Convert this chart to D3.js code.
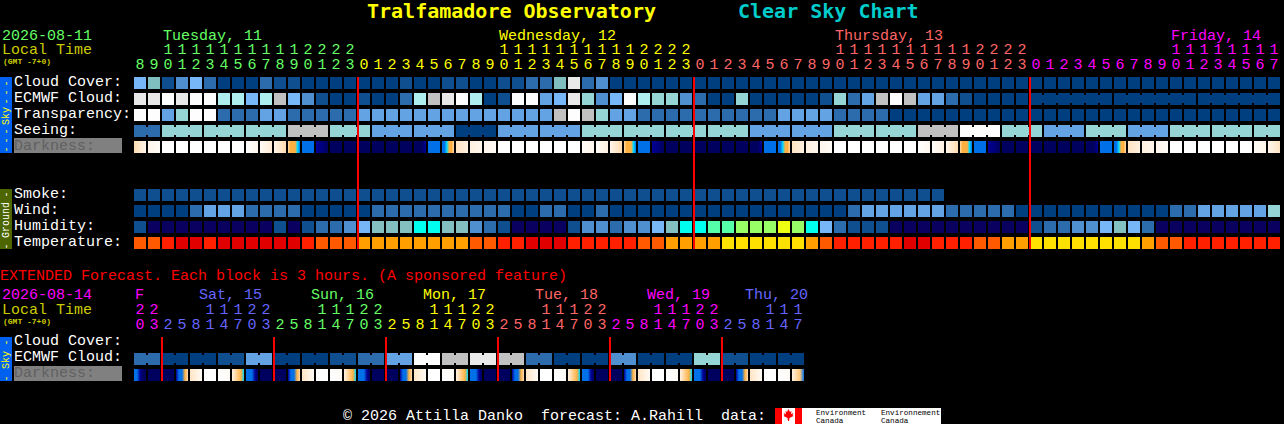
<!DOCTYPE html>
<html>
<head>
<meta charset="utf-8">
<title>Tralfamadore Observatory Clear Sky Chart</title>
<style>
  html, body { margin: 0; padding: 0; background: #000; }
  svg { display: block; }
  text { font-family: "Liberation Mono", monospace; font-size: 15px; }
  .axis path { display: none; }
</style>
</head>
<body>
<svg width="1284" height="424"></svg>
<script src="https://d3js.org/d3.v7.min.js"></script>
<script>
// hour of each block, main forecast
var hours = [8,9,10,11,12,13,14,15,16,17,18,19,20,21,22,23,
  0,1,2,3,4,5,6,7,8,9,10,11,12,13,14,15,16,17,18,19,20,21,22,23,
  0,1,2,3,4,5,6,7,8,9,10,11,12,13,14,15,16,17,18,19,20,21,22,23,
  0,1,2,3,4,5,6,7,8,9,10,11,12,13,14,15,16,17];
var dayNames = ["Tuesday, 11", "Wednesday, 12", "Thursday, 13", "Friday, 14"];
var dayCells = [2, 26, 50, 74];

// sky rows, level 0 (dark) to 11 (white)
var cloud = [5,6,1,3,5,2,0,0,0,2,1,1,0,0,0,0,0,0,0,1,0,
  0,1,1,0,0,1,1,2,2,6,10,2,3,0,0,0,0,0,0,0,0,0,0,0,0,0,0,0,0,0,0,
  0,0,0,0,0,0,0,0,0,0,0,0,0,0,0,0,0,0,0,0,0,0,0,0,0,0,0,0,0,0];
var ecmwf = [10,10,11,10,11,11,8,8,5,8,9,5,3,1,0,0,1,0,0,2,8,
  9,10,11,8,0,1,11,11,4,5,10,7,3,5,11,8,7,7,3,2,0,0,7,0,0,0,0,0,1,7,2,
  4,9,11,9,4,4,2,1,0,0,0,0,
  0,0,0,0,0,0,0,0,0,0,0,0,0,0,0,0,0,0];
var ecmwfBlocks = d3.range(64).map(function () { return 1; }).concat([6,6,6]);
var transparency = [11,11,4,7,11,11,2,2,2,4,4,2,2,2,2,2,4,4,4,4,4,
  4,4,4,4,4,4,4,4,4,9,11,9,7,4,4,2,2,2,2,2,2,2,2,2,2,4,4,4,4,2,2,
  2,2,0,0,0,0,0,0,0,0,0,0,0,0,0,0,0,0,0,0,0,0,0,0,0,0,0,0,0,0];
var seeingBlocks = [2,3,3,3,3,3,3,3,3,3,3,3,3,3,3,3,3,3,3,3,3,3,3,3,3,3,3,2];
var seeingValues = [2,7,7,7,9,7,4,4,0,4,4,7,7,7,7,4,4,7,7,9,11,7,4,7,4,7,7,7];

// darkness, colour stops inside each block: 0 day ... 8 night
var darkness = [[3,1],[1,0.5],[0],[0],[0],[0],[0],[0],[0,1],[0.5,2],[1,3],[3,4,4,4,5,6],[6],[7,8],
  [8],[8],[8],[8],[8],[8],[8,8,8,7],[6],[6,6,5,4,4,3],[2.5,1.5],[1.5,1],[1,0.5],
  [0],[0],[0],[0],[0],[0],[0.5,1],[0.5,1.5],[1,3],[3,4,4,4,5,6],[6],[7,8],
  [8],[8],[8],[8],[8],[8],[8,8,8,7],[6],[6,6,5,4,4,3],[2.5,1.5],[1.5,1],[1,0.5],
  [0],[0],[0],[0],[0],[0],[0,1],[0.5,1.5],[1,3],[3,4,4,4,5,6],[6],[7,8],
  [8],[8],[8],[8],[8],[8],[8,8,8,7],[6],[6,6,5,4,4,3],[2.5,1.5],[1.5,1],[1,0.5],
  [0],[0],[0],[0],[0],[0],[0.5,1],[1,2.5]];

// ground rows
var smoke = [1,1,1,1,1,1,1,1,1,1,1,1,1,1,1,1,1,1,1,1,1,1,1,1,1,1,1,1,1,
  1,1,1,1,1,1,1,1,1,1,1,1,1,1,1,1,1,1,1,1,1,1,1,1,1,1,1,1,1];
var wind = [0,0,0,0,2,4,4,4,2,2,2,2,0,0,0,0,0,2,2,2,2,
  2,2,2,2,2,2,0,0,2,2,0,0,2,0,0,0,0,0,0,0,0,0,0,0,0,0,0,0,0,0,2,
  4,4,4,4,4,4,2,2,2,2,2,0,0,0,0,0,0,0,0,0,0,0,2,2,4,4,4,4,4,7];
var humidity = [1,0,0,0,0,0,0,0,0,0,1,0,1,2,2,3,4,5,5,5,6,
  6,5,5,3,2,1,0,0,0,0,1,3,3,2,3,3,4,5,6,6,7,7,8,8,8,9,8,6,4,2,1,
  1,1,0,0,0,0,0,0,0,0,0,0,1,2,2,3,3,4,5,4,2,0,0,0,0,0,0,0,0,0];
var temperature = [2,2,1,0,0,1,0,0,0,0,0,0,1,2,2,2,3,3,3,3,3,
  3,3,3,2,2,1,1,0,0,0,1,1,1,1,1,2,2,3,3,3,3,4,4,4,4,4,4,3,2,1,1,
  1,1,1,0,0,1,1,1,2,2,3,3,
  4,4,4,4,4,4,4,4,3,2,2,1,1,1,1,1,1,1];

// extended forecast
var extHours = [20,23,
  2,5,8,11,14,17,20,23, 2,5,8,11,14,17,20,23, 2,5,8,11,14,17,20,23,
  2,5,8,11,14,17,20,23, 2,5,8,11,14,17,20,23, 2,5,8,11,14,17];
var extDayNames = ["F", "Sat, 15", "Sun, 16", "Mon, 17", "Tue, 18", "Wed, 19", "Thu, 20"];
var extDayCells = [0, 4, 12, 20, 28, 36, 43];
var extEcmwfBlocks = [2,2,2,2,2,2,2,2,2,2,2,2,2,2,2,2,2,2,2,2,2,2,2,2];
var extEcmwfValues = [2,0,0,1,4,0,0,1,2,4,11,9,10,9,2,0,0,3,0,0,7,1,0,0];
var extDarkness = [[6,6,7,8,8],[8],[8],[7,6,6,4,3],[2.5,0.5],[0],[0,0.5],[1.5,3,3.5,4,5],
  [6,6,6,7,8],[8],[8],[7,6,6,4,3],[2.5,0.5],[0],[0,0.5],[1.5,3,3.5,4,5],
  [6,6,6,7,8],[8],[8],[7,6,6,4,3],[2.5,0.5],[0],[0,0.5],[1.5,3,3.5,4,5],
  [6,6,6,7,8],[8],[8],[7,6,6,4,3],[2.5,0.5],[0],[0,0.5],[1.5,3,3.5,4,5],
  [6,6,6,7,8],[8],[8],[7,6,6,4,3],[2.5,0.5],[0],[0,0.5],[1.5,3,3.5,4,5],
  [6,6,6,7,8],[8],[8],[7,6,6,4,3],[2.5,0.5],[0],[0,0.5],[1.5,3,3.5,6]];

var dayColors = ["#66ff66", "#ffff00", "#ff6666", "#ff00ff", "#6666ff"];
var extDayColors = ["#ff00ff", "#6666ff", "#66ff66", "#ffff00", "#ff6666", "#ff00ff", "#6666ff"];

var skyColor = d3.scaleOrdinal(d3.range(12),
  ["#003f7f","#0f4f8f","#2c6cac","#4f8fcf","#63a3e3","#77b7f7",
   "#7fbfbf","#95d5d5","#aeeeee","#c1c1c1","#e9e9e9","#fdfdfd"]);
var humidityColor = d3.scaleOrdinal(d3.range(10),
  ["#0a0060","#0f4f8f","#2c6cac","#4f8fcf","#77b7f7","#85c0c0",
   "#00ffee","#55ffaa","#99ff66","#eeff11"]);
var tempColor = d3.scaleOrdinal(d3.range(5),
  ["#e00000","#ff2000","#ff5a00","#ffa000","#ffe000"]);
var darkColor = d3.scaleLinear()
  .domain([0,1,2,3,4,5,6,7,8])
  .range(["#ffffff","#fff6ec","#ffecd6","#ffdcb0","#ffb040","#00d8ff","#0070e8","#000098","#00005e"]);

var svg = d3.select("svg");
var defs = svg.append("defs");
var gradCount = 0;

function expand(blocks, values) {
  return blocks.reduce(function (out, n, i) {
    return out.concat(d3.range(n).map(function () { return values[i]; }));
  }, []);
}

function rowScale(names, top, bottom) {
  return d3.scaleBand().domain(names).range([top, bottom]).paddingInner(4 / 16);
}

function drawRow(x, y, name, values, color, blocks) {
  var g = svg.append("g");
  g.selectAll("rect.cell").data(values).enter().append("rect")
    .attr("class", "cell")
    .attr("x", function (d, i) { return x(i); })
    .attr("y", y(name))
    .attr("width", x.bandwidth())
    .attr("height", y.bandwidth())
    .attr("fill", function (d) { return color(d); });
  if (!blocks) return;
  // cells of one forecast block are joined by a narrow bridge
  var joins = [], start = 0;
  blocks.forEach(function (n) {
    d3.range(start, start + n - 1).forEach(function (i) { joins.push(i); });
    start += n;
  });
  g.selectAll("rect.join").data(joins).enter().append("rect")
    .attr("class", "join")
    .attr("x", function (i) { return x(i) + x.bandwidth(); })
    .attr("y", y(name) + 2)
    .attr("width", x.step() - x.bandwidth())
    .attr("height", y.bandwidth() - 4)
    .attr("fill", function (i) { return color(values[i]); });
}

function drawDarkness(x, y, name, values) {
  var g = svg.append("g");
  values.forEach(function (stops, i) {
    var id = "dark" + (gradCount++);
    var grad = defs.append("linearGradient").attr("id", id);
    var list = stops.length > 1 ? stops : [stops[0], stops[0]];
    list.forEach(function (v, k) {
      grad.append("stop")
        .attr("offset", k / (list.length - 1))
        .attr("stop-color", darkColor(v));
    });
    g.append("rect")
      .attr("x", x(i))
      .attr("y", y(name))
      .attr("width", x.bandwidth())
      .attr("height", y.bandwidth())
      .attr("fill", "url(#" + id + ")");
  });
}

function drawHours(x, hrs, colors, dayOfCell, tensY, unitsY) {
  var units = d3.axisTop(x).tickSize(0).tickPadding(0)
    .tickFormat(function (i) { return hrs[i] % 10; });
  var tens = d3.axisTop(x).tickSize(0).tickPadding(0)
    .tickFormat(function (i) { return hrs[i] >= 10 ? Math.floor(hrs[i] / 10) : ""; });
  [[units, unitsY], [tens, tensY]].forEach(function (a) {
    svg.append("g").attr("class", "axis")
      .attr("transform", "translate(0," + a[1] + ")")
      .call(a[0])
      .call(function (g) {
        g.selectAll("text")
          .attr("fill", function (i) { return colors[dayOfCell[i]]; })
          .style("font-size", "15px")
          .style("font-family", '"Liberation Mono", monospace');
      });
  });
}

function dayIndex(hrs) {
  var day = 0;
  return hrs.map(function (h, i) {
    if (i > 0 && h < hrs[i - 1]) day++;
    return day;
  });
}

function drawMidnights(x, hrs, top, bottom) {
  var cells = d3.range(1, hrs.length).filter(function (i) { return hrs[i] < hrs[i - 1]; });
  svg.append("g").selectAll("rect").data(cells).enter().append("rect")
    .attr("x", function (i) { return x(i) - 1; })
    .attr("y", top)
    .attr("width", 2)
    .attr("height", bottom - top)
    .attr("fill", "#ff0000");
}

function label(t, px, py, color, size, weight) {
  return svg.append("text").attr("x", px).attr("y", py).attr("fill", color)
    .style("font-size", (size || 15) + "px")
    .style("font-weight", weight || "normal")
    .text(t);
}

function sideBar(top, bottom, fill, textColor, name, dashes, dashGap) {
  svg.append("rect").attr("x", 0).attr("y", top).attr("width", 12)
    .attr("height", bottom - top).attr("fill", fill);
  var mid = (top + bottom) / 2;
  function side(t, py) {
    svg.append("text")
      .attr("transform", "translate(9," + py + ") rotate(-90)")
      .attr("text-anchor", "middle")
      .attr("fill", textColor)
      .style("font-size", "10px")
      .style("letter-spacing", t === name ? "0" : "3px")
      .text(t);
  }
  side(name, mid + 1);
  side(dashes, top + dashGap);
  side(dashes, bottom - dashGap);
}

// title
label("Tralfamadore Observatory", 367, 18, "#ffff00", 20, "bold").style("font-family", '"DejaVu Sans Mono", monospace');
label("Clear Sky Chart", 738, 18, "#00cccc", 20, "bold").style("font-family", '"DejaVu Sans Mono", monospace');

// main chart
var x = d3.scaleBand().domain(d3.range(hours.length))
  .range([134, 134 + hours.length * 14 - 2]).paddingInner(2 / 14);
var skyRows = ["Cloud Cover", "ECMWF Cloud", "Transparency", "Seeing", "Darkness"];
var groundRows = ["Smoke", "Wind", "Humidity", "Temperature"];
var ySky = rowScale(skyRows, 77, 153);
var yGround = rowScale(groundRows, 189, 249);

label("2026-08-11", 2, 40, "#66ff66");
label("Local Time", 2, 54, "#cccc00");
label("(GMT -7+0)", 3, 64, "#cccc00", 8, "bold");
dayNames.forEach(function (n, i) {
  label(n, x(dayCells[i]) + 1, 40, dayColors[i]);
});
drawHours(x, hours, dayColors, dayIndex(hours), 54, 69);

svg.append("rect").attr("x", 14).attr("y", 138).attr("width", 108).attr("height", 15).attr("fill", "#808080");
svg.append("rect").attr("x", 14).attr("y", 366).attr("width", 108).attr("height", 15).attr("fill", "#808080");

skyRows.forEach(function (n) {
  label(n + ":", 14, ySky(n) + 9, n === "Darkness" ? "#606060" : "#ffffff");
});
groundRows.forEach(function (n) {
  label(n + ":", 14, yGround(n) + 9, "#ffffff");
});

drawRow(x, ySky, "Cloud Cover", cloud, skyColor);
drawRow(x, ySky, "ECMWF Cloud", ecmwf, skyColor, ecmwfBlocks);
drawRow(x, ySky, "Transparency", transparency, skyColor);
drawRow(x, ySky, "Seeing", expand(seeingBlocks, seeingValues), skyColor, seeingBlocks);
drawDarkness(x, ySky, "Darkness", darkness);

drawRow(x, yGround, "Smoke", smoke, skyColor);
drawRow(x, yGround, "Wind", wind, skyColor);
drawRow(x, yGround, "Humidity", humidity, humidityColor);
drawRow(x, yGround, "Temperature", temperature, tempColor);

drawMidnights(x, hours, 77, 249);
sideBar(77, 153, "#0060f0", "#ffff00", "Sky", "---", 14);
sideBar(189, 249, "#4d6600", "#ffffff", "Ground", "-", 4);

// extended chart
label("EXTENDED Forecast. Each block is 3 hours. (A sponsored feature)", 0, 280, "#ff0000");
label("2026-08-14", 2, 299, "#ff00ff");
label("Local Time", 2, 314, "#cccc00");
label("(GMT -7+0)", 3, 324, "#cccc00", 8, "bold");

var xExt = d3.scaleBand().domain(d3.range(extHours.length))
  .range([134, 134 + extHours.length * 14 - 2]).paddingInner(2 / 14);
var extRows = ["Cloud Cover", "ECMWF Cloud", "Darkness"];
var yExt = rowScale(extRows, 337, 381);

extDayNames.forEach(function (n, i) {
  label(n, xExt(extDayCells[i]) + (i === 0 ? 1 : 9), 299, extDayColors[i]);
});
drawHours(xExt, extHours, extDayColors, dayIndex(extHours), 314, 329);

extRows.forEach(function (n) {
  label(n + ":", 14, yExt(n) + 8, n === "Darkness" ? "#606060" : "#ffffff");
});

drawRow(xExt, yExt, "ECMWF Cloud", expand(extEcmwfBlocks, extEcmwfValues), skyColor, extEcmwfBlocks);
drawDarkness(xExt, yExt, "Darkness", extDarkness);
drawMidnights(xExt, extHours, 337, 381);
sideBar(337, 381, "#0060f0", "#ffff00", "Sky", "-", 4);

// footer
label("\u00a9 2026 Attilla Danko\u00a0\u00a0forecast: A.Rahill\u00a0\u00a0data:", 343, 420, "#ffffff");
svg.append("rect").attr("x", 775).attr("y", 408).attr("width", 166).attr("height", 16).attr("fill", "#ffffff");
svg.append("rect").attr("x", 775).attr("y", 408).attr("width", 7).attr("height", 16).attr("fill", "#ff0000");
svg.append("rect").attr("x", 795).attr("y", 408).attr("width", 7).attr("height", 16).attr("fill", "#ff0000");
svg.append("path")
  .attr("transform", "translate(788.5,415)")
  .attr("d", "M0,-6L1.5,-3L3,-4L2.5,-1L5,-2L4,0L5,1L1,3L0.5,6L-0.5,6L-1,3L-5,1L-4,0L-5,-2L-2.5,-1L-3,-4L-1.5,-3Z")
  .attr("fill", "#ff0000");
label("Environment", 816, 415, "#000000", 7.6);
label("Canada", 816, 423, "#000000", 7.6);
label("Environnement", 881, 415, "#000000", 7.6);
label("Canada", 881, 423, "#000000", 7.6);
</script>
</body>
</html>
